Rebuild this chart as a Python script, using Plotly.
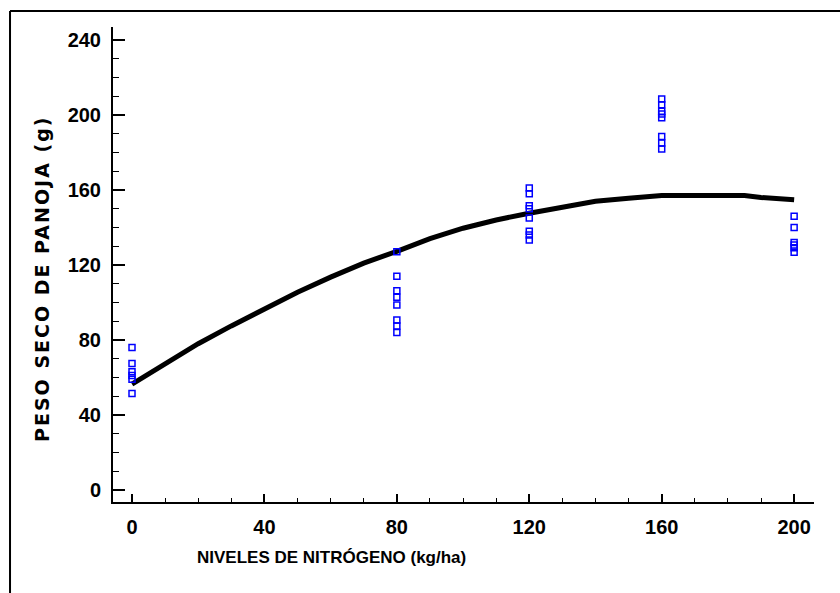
import plotly.graph_objects as go

# Observed data (dry panicle weight, g) at each nitrogen level (kg/ha)
obs_n0 = [76, 67.5, 63, 61, 59, 51.5]
obs_n80 = [127, 114, 106.3, 102.8, 98.7, 90.7, 87.5, 84]
obs_n120 = [161, 158, 151.6, 150, 145, 138, 136, 133.3]
obs_n160 = [208.5, 205.5, 202, 200.5, 198.5, 188.5, 185, 181.8]
obs_n200 = [146, 140, 132, 130.7, 129.2, 126.8]

levels = [0, 80, 120, 160, 200]
observed = [obs_n0, obs_n80, obs_n120, obs_n160, obs_n200]

# Fitted response curve
curve_x = [0, 10, 20, 30, 40, 50, 60, 70, 80, 90, 100, 110, 120, 130, 140, 150, 160, 170, 180, 185, 190, 200]
curve_y = [56.5, 67.5, 78, 87.5, 96.5, 105.5, 113.5, 121, 127.3, 134, 139.6, 144, 147.6, 151.1, 154, 155.6, 157, 157, 157, 157, 156, 154.8]

x_ticks = [0, 40, 80, 120, 160, 200]
y_ticks = [0, 40, 80, 120, 160, 200, 240]

pts_x, pts_y = [], []
for lv, vals in zip(levels, observed):
    pts_x += [lv] * len(vals)
    pts_y += vals

fig = go.Figure()
fig.add_trace(go.Scatter(x=curve_x, y=curve_y, mode="lines",
                         line=dict(color="black", width=5), showlegend=False))
fig.add_trace(go.Scatter(x=pts_x, y=pts_y, mode="markers",
                         marker=dict(symbol="square-open", size=6, color="#0000FF",
                                     line=dict(width=1.5, color="#0000FF")),
                         showlegend=False))

tickfont = dict(family="Liberation Sans, Arial", size=20, color="black", weight="bold")

fig.update_layout(
    width=840, height=593,
    margin=dict(l=113, r=26, t=27, b=91),
    paper_bgcolor="white", plot_bgcolor="white",
    xaxis=dict(range=[-5.74, 206.0], tickvals=x_ticks, ticktext=[str(v) for v in x_ticks],
               showgrid=False, zeroline=False, showline=True, linecolor="black", linewidth=2,
               ticks="inside", ticklen=8, tickwidth=1.5, tickcolor="black",
               minor=dict(dtick=10, tick0=0, ticks="inside", ticklen=4, tickwidth=1, tickcolor="black", showgrid=False),
               tickfont=tickfont, ticklabelstandoff=6),
    yaxis=dict(range=[-6.4, 246.9], tickvals=y_ticks, ticktext=[str(v) for v in y_ticks],
               showgrid=False, zeroline=False, showline=True, linecolor="black", linewidth=2,
               ticks="inside", ticklen=12, tickwidth=1.5, tickcolor="black",
               minor=dict(dtick=10, tick0=0, ticks="inside", ticklen=6, tickwidth=1, tickcolor="black", showgrid=False),
               tickfont=tickfont, ticklabelstandoff=6),
    annotations=[
        dict(text="<b>NIVELES DE NITRÓGENO (kg/ha)</b>", xref="paper", yref="paper",
             x=0.3124, y=-0.1158, showarrow=False, xanchor="center", yanchor="middle",
             font=dict(family="Liberation Sans, Arial", size=17, color="black")),
        dict(text="<b>PESO SECO DE PANOJA (g)</b>", xref="paper", yref="paper",
             x=-0.1013, y=0.4695, showarrow=False, xanchor="center", yanchor="middle", textangle=-90,
             font=dict(family="DejaVu Sans, Liberation Sans", size=19, color="black")),
    ],
    shapes=[
        dict(type="line", xref="paper", yref="paper", x0=-0.1469, x1=1.06, y0=1.0337, y1=1.0337,
             line=dict(color="black", width=2)),
        dict(type="line", xref="paper", yref="paper", x0=-0.1469, x1=-0.1469, y0=1.0337, y1=-0.21,
             line=dict(color="black", width=2)),
    ],
)

post = (
    "document.body.style.margin='0';document.body.style.padding='0';"
    "var t=document.querySelectorAll('text.annotation-text');"
    "if(t.length>1){t[1].style.letterSpacing='2px';}"
)
fig.write_html("out.html", post_script=post, config={"displayModeBar": False})
